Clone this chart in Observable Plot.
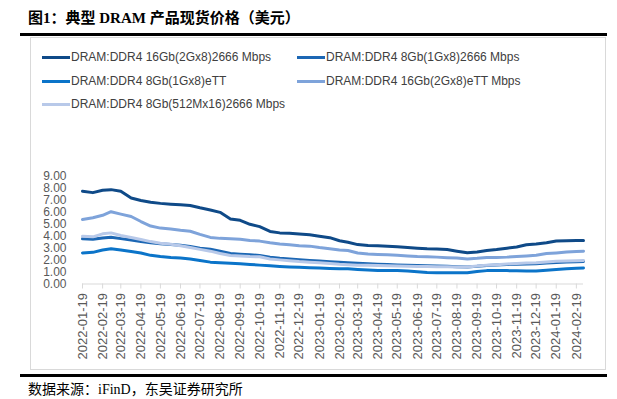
<!DOCTYPE html>
<html>
<head>
<meta charset="utf-8">
<script src="https://cdn.jsdelivr.net/npm/d3@7"></script>
<script src="https://cdn.jsdelivr.net/npm/@observablehq/plot@0.6"></script>
<style>
  html, body { margin: 0; padding: 0; background: #fff; }
  #page { position: relative; width: 617px; height: 399px; overflow: hidden; font-family: "Liberation Sans", Arial, sans-serif; }
  #title { position: absolute; left: 28px; top: 6px; font-family: "Liberation Serif", "Noto Sans CJK SC", serif; font-weight: bold; font-size: 15px; color: #000; white-space: nowrap; }
  .rule { position: absolute; left: 20px; width: 587px; height: 3px; background: #000; }
  #box { position: absolute; left: 30px; top: 37px; width: 576px; height: 333px; border: 1px solid #d9d9d9; box-sizing: border-box; }
  .leg { position: absolute; font-size: 12px; color: #404040; white-space: nowrap; line-height: 14px; }
  .sw { position: absolute; width: 28px; height: 3px; }
  #chart { position: absolute; left: 0; top: 165px; }
  #caption { position: absolute; left: 28px; top: 378px; font-family: "Liberation Serif", "Noto Sans CJK SC", serif; font-size: 14px; color: #000; white-space: nowrap; }
</style>
</head>
<body>
<div id="page">
  <div id="title">图1：典型 DRAM 产品现货价格（美元）</div>
  <div class="rule" style="top:33px"></div>
  <div id="box"></div>
  <div id="legend"></div>
  <div id="chart"></div>
  <div class="rule" style="top:374px"></div>
  <div id="caption">数据来源：iFinD，东吴证券研究所</div>
</div>
<script>
const dates = ["2022-01-19","2022-02-04","2022-02-19","2022-03-04","2022-03-19","2022-04-04","2022-04-19","2022-05-04","2022-05-19","2022-06-04","2022-06-19","2022-07-04","2022-07-19","2022-08-04","2022-08-19","2022-09-04","2022-09-19","2022-10-04","2022-10-19","2022-11-04","2022-11-19","2022-12-04","2022-12-19","2023-01-04","2023-01-19","2023-02-04","2023-02-19","2023-03-04","2023-03-19","2023-04-04","2023-04-19","2023-05-04","2023-05-19","2023-06-04","2023-06-19","2023-07-04","2023-07-19","2023-08-04","2023-08-19","2023-09-04","2023-09-19","2023-10-04","2023-10-19","2023-11-04","2023-11-19","2023-12-04","2023-12-19","2024-01-04","2024-01-19","2024-02-04","2024-02-19","2024-03-01"];

const ddr4_16Gb_2666 = [7.77,7.65,7.85,7.9,7.77,7.2,6.99,6.85,6.75,6.68,6.63,6.57,6.38,6.2,6.0,5.45,5.33,5.0,4.8,4.4,4.28,4.24,4.18,4.12,4.0,3.88,3.62,3.5,3.3,3.22,3.2,3.17,3.12,3.05,3.0,2.95,2.92,2.88,2.75,2.62,2.68,2.8,2.88,3.0,3.1,3.28,3.35,3.45,3.6,3.63,3.64,3.64];
const ddr4_8Gb_2666 = [3.78,3.74,3.85,3.92,3.8,3.68,3.56,3.45,3.37,3.3,3.25,3.15,3.0,2.92,2.75,2.55,2.5,2.45,2.38,2.25,2.15,2.1,2.03,1.97,1.92,1.87,1.82,1.78,1.74,1.7,1.66,1.63,1.6,1.58,1.55,1.53,1.5,1.48,1.45,1.43,1.48,1.55,1.6,1.63,1.66,1.68,1.7,1.75,1.8,1.84,1.87,1.88];
const ddr4_8Gb_eTT = [2.6,2.65,2.85,2.95,2.85,2.72,2.6,2.4,2.3,2.22,2.17,2.1,1.97,1.83,1.78,1.74,1.7,1.64,1.58,1.52,1.47,1.43,1.4,1.37,1.33,1.3,1.28,1.27,1.22,1.17,1.13,1.13,1.12,1.08,1.03,0.97,0.94,0.94,0.94,0.95,1.05,1.12,1.14,1.12,1.1,1.08,1.08,1.15,1.22,1.27,1.32,1.34];
const ddr4_16Gb_eTT = [5.4,5.55,5.75,6.05,5.85,5.65,5.23,4.85,4.68,4.6,4.5,4.42,4.15,3.9,3.82,3.78,3.74,3.65,3.59,3.45,3.35,3.28,3.2,3.17,3.05,2.95,2.85,2.8,2.6,2.52,2.48,2.44,2.4,2.35,2.3,2.28,2.25,2.2,2.17,2.1,2.15,2.22,2.22,2.25,2.3,2.35,2.4,2.55,2.6,2.67,2.72,2.75];
const ddr4_8Gb_512M = [4.0,3.95,4.2,4.28,4.06,3.9,3.73,3.55,3.42,3.32,3.2,3.05,2.9,2.75,2.55,2.38,2.35,2.3,2.28,2.1,2.02,1.95,1.88,1.83,1.77,1.72,1.65,1.61,1.58,1.56,1.54,1.52,1.5,1.48,1.47,1.46,1.45,1.44,1.43,1.42,1.5,1.58,1.62,1.67,1.72,1.75,1.78,1.85,1.9,1.93,1.95,1.97];

const seriesNames = ["DRAM:DDR4 16Gb(2Gx8)2666 Mbps","DRAM:DDR4 8Gb(1Gx8)2666 Mbps","DRAM:DDR4 8Gb(1Gx8)eTT","DRAM:DDR4 16Gb(2Gx8)eTT Mbps","DRAM:DDR4 8Gb(512Mx16)2666 Mbps"];
const seriesColors = ["#0f4a88","#1c67b4","#0b74c9","#7ea3da","#b8c9e9"];
const xTickLabels = ["2022-01-19","2022-02-19","2022-03-19","2022-04-19","2022-05-19","2022-06-19","2022-07-19","2022-08-19","2022-09-19","2022-10-19","2022-11-19","2022-12-19","2023-01-19","2023-02-19","2023-03-19","2023-04-19","2023-05-19","2023-06-19","2023-07-19","2023-08-19","2023-09-19","2023-10-19","2023-11-19","2023-12-19","2024-01-19","2024-02-19"];
const yTicks = [0,1,2,3,4,5,6,7,8,9];

const seriesValues = [ddr4_16Gb_2666, ddr4_8Gb_2666, ddr4_8Gb_eTT, ddr4_16Gb_eTT, ddr4_8Gb_512M];
const parse = d3.utcParse("%Y-%m-%d");
const rows = [];
seriesValues.forEach((vals, s) => vals.forEach((v, i) => rows.push({date: parse(dates[i]), value: v, series: seriesNames[s]})));

// legend
const legend = document.getElementById("legend");
const legPos = [[42, 57, 71], [297, 57, 326], [42, 81, 71], [297, 81, 326], [42, 104, 71]];
seriesNames.forEach((name, i) => {
  const [sx, y, tx] = legPos[i];
  const sw = document.createElement("div");
  sw.className = "sw";
  sw.style.left = sx + "px"; sw.style.top = (y - 1.5) + "px"; sw.style.background = seriesColors[i];
  legend.appendChild(sw);
  const t = document.createElement("div");
  t.className = "leg";
  t.style.left = tx + "px"; t.style.top = (y - 7) + "px";
  t.textContent = name;
  legend.appendChild(t);
});

const xDomain = [parse(dates[0]), parse(dates[dates.length - 1])];
const chart = Plot.plot({
  width: 617,
  height: 205,
  marginLeft: 82,
  marginRight: 34,
  marginTop: 11,
  marginBottom: 86.5,
  style: {fontFamily: "Liberation Sans, Arial, sans-serif", fontSize: "12px", color: "#595959", background: "transparent"},
  x: {type: "utc", domain: xDomain},
  y: {domain: [0, 9]},
  color: {domain: seriesNames, range: seriesColors},
  marks: [
    Plot.ruleY([0], {stroke: "#d9d9d9", strokeWidth: 1}),
    Plot.axisX({ticks: xTickLabels.map(parse), tickFormat: d3.utcFormat("%Y-%m-%d"), tickRotate: -90, tickSize: 5, tickPadding: 4, stroke: "#d9d9d9", fill: "#595959", fontSize: 13, label: null}),
    Plot.axisY({ticks: yTicks, tickFormat: d => d.toFixed(2), tickSize: 0, tickPadding: 16, fill: "#595959", fontSize: 12, label: null}),
    Plot.line(rows, {x: "date", y: "value", z: "series", stroke: "series", strokeWidth: 3, curve: "linear"})
  ]
});
document.getElementById("chart").appendChild(chart);
</script>
</body>
</html>
